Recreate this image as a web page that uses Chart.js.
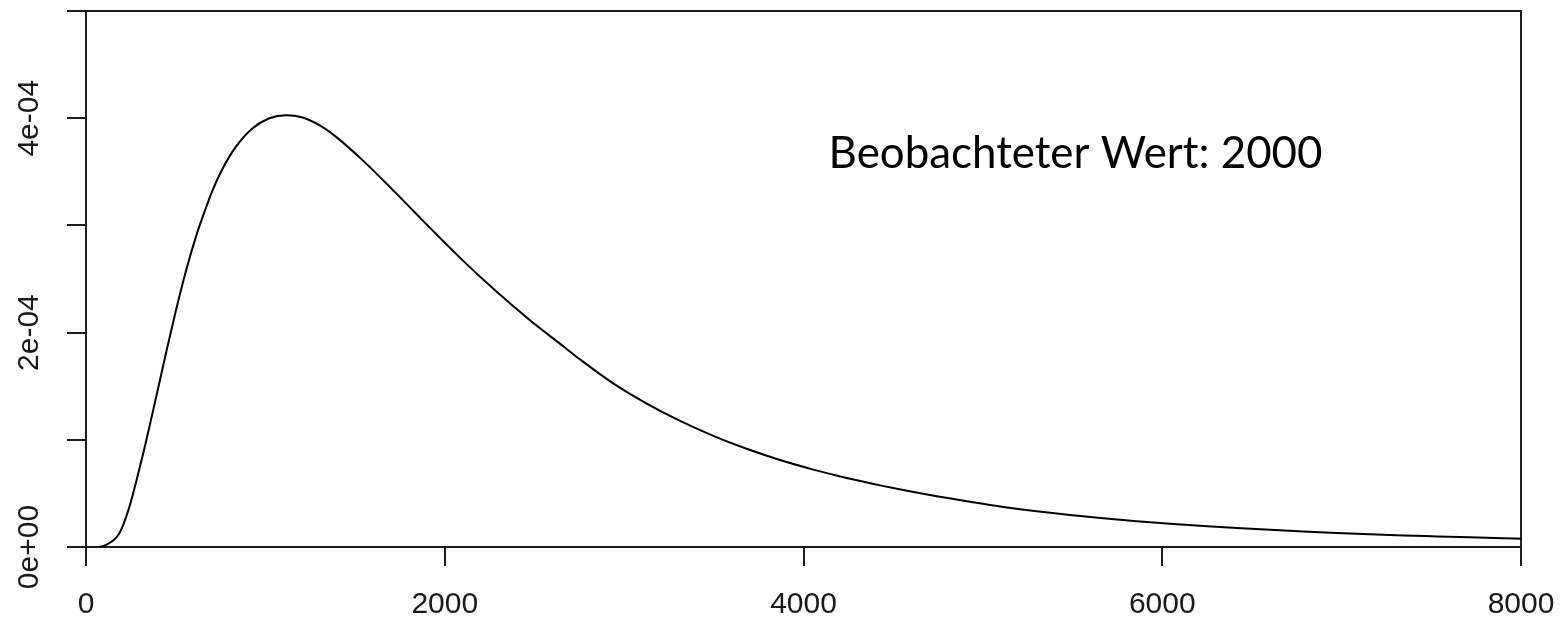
<!DOCTYPE html>
<html>
<head>
<meta charset="utf-8">
<title>Dichte</title>
<script src="https://cdn.jsdelivr.net/npm/chart.js@4/dist/chart.umd.min.js"></script>
<style>
  html, body { margin: 0; padding: 0; background: #ffffff; }
  #wrap { width: 1565px; height: 621px; }
</style>
</head>
<body>
<div id="wrap"><canvas id="chart" width="1565" height="621"></canvas></div>
<script>
// Density curve sampled along x
const xValues = [74, 112, 186, 241, 297, 335, 372, 409, 446, 502,
  558, 613, 651, 706, 762, 836, 929, 1022, 1115, 1208,
  1301, 1394, 1546, 1732, 1918, 2103, 2290, 2475, 2661, 2754,
  2939, 3126, 3312, 3497, 3683, 3869, 4055, 4241, 4427, 4556,
  4743, 4928, 5114, 5300, 5486, 5671, 5857, 6043, 6229, 6415,
  6601, 6786, 6973, 7158, 7344, 7530, 7716, 7901, 8000];
const densityValues = [0, 1.9e-6, 1.28e-5, 3.70e-5, 7.24e-5, 9.86e-5, 1.258e-4, 1.532e-4, 1.810e-4, 2.211e-4,
  2.579e-4, 2.895e-4, 3.082e-4, 3.329e-4, 3.531e-4, 3.735e-4, 3.907e-4, 4.000e-4, 4.028e-4, 4.007e-4,
  3.935e-4, 3.826e-4, 3.602e-4, 3.294e-4, 2.977e-4, 2.669e-4, 2.380e-4, 2.115e-4, 1.872e-4, 1.750e-4,
  1.526e-4, 1.338e-4, 1.176e-4, 1.037e-4, 9.16e-5, 8.11e-5, 7.22e-5, 6.44e-5, 5.75e-5, 5.31e-5,
  4.73e-5, 4.22e-5, 3.74e-5, 3.33e-5, 2.98e-5, 2.68e-5, 2.41e-5, 2.17e-5, 1.96e-5, 1.77e-5,
  1.60e-5, 1.45e-5, 1.31e-5, 1.19e-5, 1.08e-5, 9.9e-6, 9.0e-6, 8.2e-6, 7.8e-6];

// Axis ticks and their labels
const xTickValues = [0, 2000, 4000, 6000, 8000];
const xTickLabels = ['0', '2000', '4000', '6000', '8000'];
const yTickValues = [0, 1e-4, 2e-4, 3e-4, 4e-4, 5e-4];
const yTickLabels = ['0e+00', '', '2e-04', '', '4e-04', ''];

const annotationText = 'Beobachteter Wert: 2000';

const axisColor = '#1e1e1e';
const tickFont = { family: '"Liberation Sans", Arial, sans-serif', size: 30 };

// Writes the observed-value note inside the plot region
const notePlugin = {
  id: 'note',
  afterDatasetsDraw(chart) {
    const { ctx, scales } = chart;
    const px = scales.x.getPixelForValue(4140);
    const py = scales.y.getPixelForValue(3.54e-4);
    ctx.save();
    ctx.font = '44px Lato, "Open Sans", sans-serif';
    const w = ctx.measureText(annotationText).width;
    const size = 44 * 494 / w;
    ctx.font = size.toFixed(2) + 'px Lato, "Open Sans", sans-serif';
    ctx.fillStyle = '#000000';
    ctx.textAlign = 'left';
    ctx.textBaseline = 'alphabetic';
    ctx.fillText(annotationText, px, py);
    ctx.restore();
  }
};

new Chart(document.getElementById('chart'), {
  type: 'line',
  data: {
    datasets: [{
      data: xValues.map((x, i) => ({ x: x, y: densityValues[i] })),
      borderColor: '#000000',
      borderWidth: 2,
      pointRadius: 0,
      fill: false,
      cubicInterpolationMode: 'monotone',
      xAxisID: 'x',
      yAxisID: 'y'
    }]
  },
  options: {
    responsive: false,
    animation: false,
    devicePixelRatio: 1,
    layout: { padding: { top: 11, right: 44, left: 0, bottom: 0 } },
    plugins: { legend: { display: false }, tooltip: { enabled: false } },
    scales: {
      x: {
        type: 'linear',
        position: 'bottom',
        min: 0,
        max: 8000,
        afterBuildTicks: s => { s.ticks = xTickValues.map(v => ({ value: v })); },
        afterFit: s => { s.height = 74; s.paddingLeft = 0; s.paddingRight = 0; },
        ticks: {
          autoSkip: false,
          maxRotation: 0,
          minRotation: 0,
          padding: 21,
          color: '#1a1a1a',
          font: tickFont,
          callback: (v, i) => xTickLabels[i]
        },
        grid: { display: true, drawOnChartArea: false, drawTicks: true, tickLength: 19, color: axisColor, lineWidth: 2 },
        border: { display: true, color: axisColor, width: 2 }
      },
      y: {
        type: 'linear',
        position: 'left',
        min: 0,
        max: 5e-4,
        afterBuildTicks: s => { s.ticks = yTickValues.map(v => ({ value: v })); },
        afterFit: s => { s.width = 86; s.paddingTop = 0; s.paddingBottom = 0; },
        ticks: {
          autoSkip: false,
          minRotation: 90,
          maxRotation: 90,
          crossAlign: 'center',
          padding: -5,
          color: '#1a1a1a',
          font: tickFont,
          callback: (v, i) => yTickLabels[i]
        },
        grid: { display: true, drawOnChartArea: false, drawTicks: true, tickLength: 19, color: axisColor, lineWidth: 2 },
        border: { display: true, color: axisColor, width: 2 }
      },
      xTop: {
        axis: 'x',
        type: 'linear',
        position: 'top',
        min: 0,
        max: 8000,
        afterFit: s => { s.height = 0; s.paddingLeft = 0; s.paddingRight = 0; },
        ticks: { display: false },
        grid: { display: false },
        border: { display: true, color: axisColor, width: 2 }
      },
      yRight: {
        axis: 'y',
        type: 'linear',
        position: 'right',
        min: 0,
        max: 5e-4,
        afterFit: s => { s.width = 0; s.paddingTop = 0; s.paddingBottom = 0; },
        ticks: { display: false },
        grid: { display: false },
        border: { display: true, color: axisColor, width: 2 }
      }
    }
  },
  plugins: [notePlugin]
});
</script>
</body>
</html>
